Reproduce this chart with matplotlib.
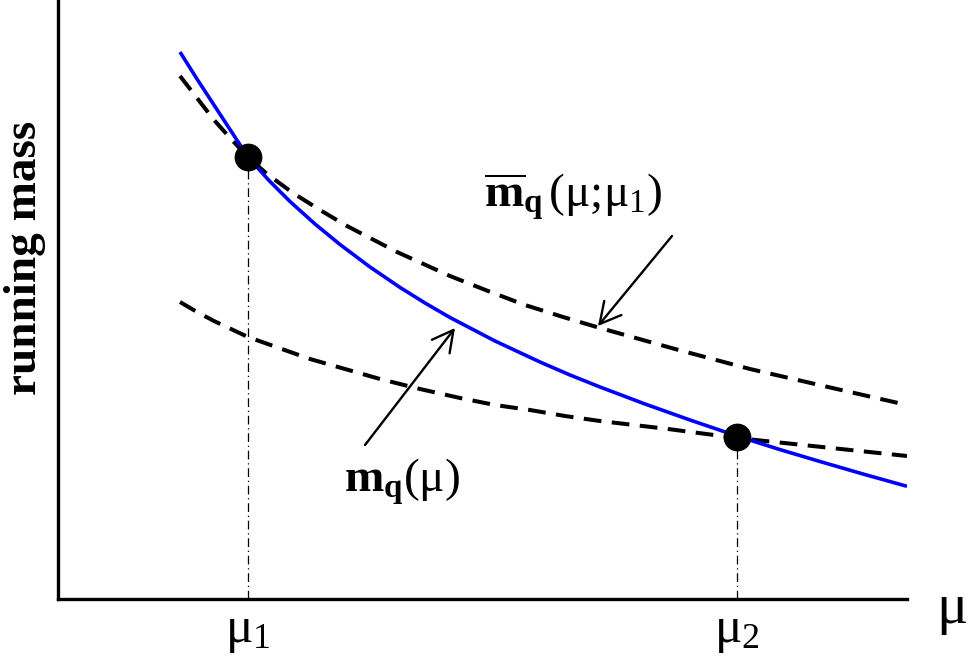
import matplotlib
matplotlib.use("Agg")
import matplotlib.pyplot as plt

plt.rcParams['font.family'] = ['Liberation Serif', 'DejaVu Serif']
plt.rcParams['mathtext.fontset'] = 'custom'
plt.rcParams['mathtext.rm'] = 'Liberation Serif'
plt.rcParams['mathtext.bf'] = 'Liberation Serif:bold'
plt.rcParams['mathtext.it'] = 'Liberation Serif:italic'

# ---- data (arbitrary units) ----
mu_run = [122, 139, 156, 173, 190, 211, 232, 257, 282, 312, 342, 367, 392,
          437, 482, 512, 542, 587, 632, 679, 720, 762, 805, 849]
m_run = [547, 520, 494, 468, 442, 418.5, 397.5, 375, 354.5, 332, 311.6, 296,
         281.5, 258, 237, 224, 212, 195, 179, 163, 150, 137.5, 125, 112.7]

mu_up = [122, 139, 156, 173, 190, 209, 235, 262, 289, 339, 392, 430, 467,
         505, 542, 617, 692, 770, 849]
m_up = [523, 501, 479, 460, 442, 425, 406, 389, 373, 347, 323, 308, 294,
        282, 271, 250, 230, 212, 194]

mu_low = [122, 139, 156, 173, 190, 221, 252, 287, 322, 362, 402, 437, 472,
          507, 542, 610, 679, 764, 849]
m_low = [297, 287, 278, 270, 262, 251, 240, 230, 220, 210, 201, 194, 189,
         183, 178, 170, 161, 152, 143]

mu_points = [190, 679]
m_points = [442, 162]
tick_labels = [r'$\mathrm{\mu}_1$', r'$\mathrm{\mu}_2$']

label_mbar = r'$\overline{\mathbf{m}}_{\mathbf{q}}\,$(μ;μ$_1$)'
label_m = r'$\mathbf{m}_{\mathbf{q}}$(μ)'
arrow_mbar = ((614, 363), (540, 273))   # tail, head
arrow_m = ((307, 154), (397, 271))

fig = plt.figure(figsize=(9.74, 6.64), dpi=100)
ax = fig.add_axes([58/974, 65/664, 849/974, 599/664])
ax.set_xlim(0, 849)
ax.set_ylim(0, 599)

ax.plot(mu_run, m_run, color='#0000ff', lw=2.6, solid_capstyle='butt', zorder=3)
l1, = ax.plot(mu_up, m_up, color='k', lw=2.9, zorder=2)
l1.set_dashes([4.4, 2.6])
l2, = ax.plot(mu_low, m_low, color='k', lw=2.9, zorder=2)
l2.set_dashes([4.4, 2.6])

for x, y in zip(mu_points, m_points):
    ax.plot([x, x], [0, y], color='k', lw=0.9, linestyle=(0, (7, 3, 1, 3)), zorder=1)
ax.plot(mu_points, m_points, 'o', color='k', markersize=19, zorder=4)

for (tail, head) in (arrow_mbar, arrow_m):
    ax.annotate('', xy=head, xytext=tail,
                arrowprops=dict(arrowstyle='->,head_length=0.75,head_width=0.4',
                                lw=1.7, color='k', mutation_scale=20,
                                shrinkA=0, shrinkB=0))

ax.text(426, 392, label_mbar, fontsize=34, ha='left', va='baseline')
ax.text(286, 107, label_m, fontsize=34, ha='left', va='baseline')

for s in ['top', 'right']:
    ax.spines[s].set_visible(False)
for s in ['left', 'bottom']:
    ax.spines[s].set_linewidth(2.4)

ax.set_xticks(mu_points)
ax.set_xticklabels(tick_labels, fontsize=37)
ax.tick_params(axis='x', length=0, pad=7)
ax.set_yticks([])
ax.set_ylabel('running mass', fontsize=34, fontweight='bold')
ax.yaxis.set_label_coords(-0.014, 0.569)
ax.text(878, -10, 'μ', fontsize=42, ha='left', va='center', clip_on=False)

fig.savefig('out.png', dpi=100)
